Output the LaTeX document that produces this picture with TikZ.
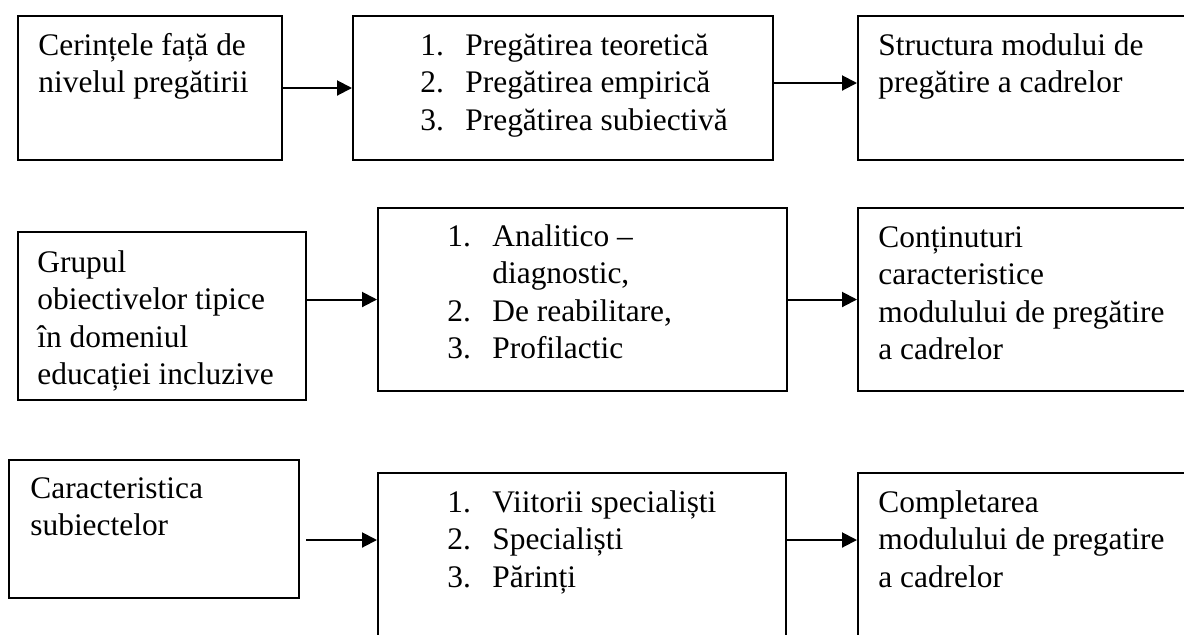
\documentclass[tikz,border=0pt]{standalone}
\usepackage{fontspec}
\setmainfont{Liberation Serif}
\usetikzlibrary{arrows.meta}

\newcommand{\numar}[1]{\makebox[22.5pt][l]{#1}}
\newcommand{\sus}{\rule{0pt}{15pt}}

\begin{document}
\begin{tikzpicture}[x=0.5pt,y=-0.5pt,
		cutie/.style={draw,line width=1pt,rectangle,inner sep=0pt,anchor=north west},
		scris/.style={anchor=north west,align=left,inner sep=0pt,font=\fontsize{15.7}{18.75}\selectfont},
		sageata/.style={line width=1pt,-{Triangle[length=7.5pt,width=7.5pt]}}]
		\useasboundingbox (0,0) rectangle (1184,634) ;
		\clip (0,0) rectangle (1184,634) ;

		% randul 1
		\node[cutie,minimum width=132pt,minimum height=72pt] (cer) at (17,15) {} ;
		\node[cutie,minimum width=210pt,minimum height=72pt] (preg) at (352,15) {} ;
		\node[cutie,minimum width=170pt,minimum height=72pt] (struct) at (857,15) {} ;

		\node[scris] (tcer) at ([shift={(21,10)}]cer.north west) {\sus Cerințele față de\\nivelul pregătirii} ;
		\node[scris] (tpreg) at ([shift={(68,10)}]preg.north west) {\sus\numar{1.}Pregătirea teoretică\\\numar{2.}Pregătirea empirică\\\numar{3.}Pregătirea subiectivă} ;
		\node[scris] (tstruct) at ([shift={(21,10)}]struct.north west) {\sus Structura modului de\\pregătire a cadrelor} ;

		\coordinate (p1) at ([shift={(0,-5)}]preg.east) ;
		\draw[sageata] (cer.east) -- (preg.west) ;
		\draw[sageata] (p1) -- (p1 -| struct.west) ;

		% randul 2
		\node[cutie,minimum width=144pt,minimum height=84pt] (obiect) at (17,231) {} ;
		\node[cutie,minimum width=204.5pt,minimum height=91.5pt] (metode) at (377,207) {} ;
		\node[cutie,minimum width=170pt,minimum height=91.5pt] (continut) at (857,207) {} ;

		\node[scris] (tobiect) at ([shift={(20,11)}]obiect.north west) {\sus Grupul\\obiectivelor tipice\\în domeniul\\educației incluzive} ;
		\node[scris] (tmetode) at ([shift={(70,9)}]metode.north west) {\sus\numar{1.}Analitico –\\\hspace*{22.5pt}diagnostic,\\\numar{2.}De reabilitare,\\\numar{3.}Profilactic} ;
		\node[scris] (tcontinut) at ([shift={(21,10)}]continut.north west) {\sus Conținuturi\\caracteristice\\modulului de pregătire\\a cadrelor} ;

		\draw[sageata] (obiect.east |- metode.west) -- (metode.west) ;
		\draw[sageata] (metode.east) -- (metode.east -| continut.west) ;

		% randul 3
		\node[cutie,minimum width=145pt,minimum height=69pt] (caract) at (8,459) {} ;
		\node[cutie,minimum width=204pt,minimum height=100pt] (subiecti) at (377,472) {} ;
		\node[cutie,minimum width=170pt,minimum height=100pt] (complet) at (857,472) {} ;

		\node[scris] (tcaract) at ([shift={(22,9)}]caract.north west) {\sus Caracteristica\\subiectelor} ;
		\node[scris] (tsubiecti) at ([shift={(70,10)}]subiecti.north west) {\sus\numar{1.}Viitorii specialiști\\\numar{2.}Specialiști\\\numar{3.}Părinți} ;
		\node[scris] (tcomplet) at ([shift={(21,10)}]complet.north west) {\sus Completarea\\modulului de pregatire\\a cadrelor} ;

		\coordinate (g1) at ([shift={(6,11)}]caract.east) ;
		\draw[sageata] (g1) -- (g1 -| subiecti.west) ;
		\draw[sageata] (subiecti.east |- g1) -- (g1 -| complet.west) ;
	\end{tikzpicture}
\end{document}
